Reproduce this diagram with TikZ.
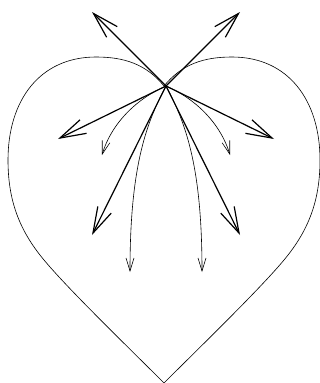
\documentclass[tikz,border=0pt]{standalone}
\usetikzlibrary{arrows.meta}
\tikzset{
  heartline/.style={line width=0.6pt},
  thickarrow/.style={line width=1.2pt,-{Straight Barb[length=26pt,width=15pt,line width=1.2pt]}},
  thinarrow/.style={line width=0.6pt,-{Straight Barb[length=13pt,width=8pt,line width=0.6pt]}}
}
\begin{document}
\begin{tikzpicture}[x=1pt,y=-1pt]
\useasboundingbox (0,0) rectangle (320,383);
% heart
\draw[heartline] (164,383)
  .. controls (129,348) and (69,290) .. (44,260)
  .. controls (19,230) and (8,200) .. (8,160)
  .. controls (8,100) and (40,57) .. (96,57)
  .. controls (124,57) and (146,64) .. (164,86)
  .. controls (182,64) and (204,57) .. (232,57)
  .. controls (288,57) and (320,100) .. (320,160)
  .. controls (320,200) and (309,230) .. (284,260)
  .. controls (259,290) and (199,348) .. (164,383);
\coordinate (c) at (166,86);
\coordinate (ul) at (92,12);
\coordinate (ur) at (240,12);
\coordinate (l) at (58,139);
\coordinate (r) at (274,139);
\coordinate (ll) at (92,235);
\coordinate (lr) at (240,235);
\coordinate (tl) at (102,155);
\coordinate (tr) at (230,155);
\coordinate (bl) at (130,272);
\coordinate (br) at (202,272);
\draw[thickarrow] (c) -- (ul);
\draw[thickarrow] (c) -- (ur);
\draw[thickarrow] (c) -- (l);
\draw[thickarrow] (c) -- (r);
\draw[thickarrow] (c) -- (ll);
\draw[thickarrow] (c) -- (lr);
\draw[thinarrow] (c) .. controls (138,98) and (112,122) .. (tl);
\draw[thinarrow] (c) .. controls (194,98) and (220,122) .. (tr);
\draw[thinarrow] (c) .. controls (145,125) and (130,170) .. (bl);
\draw[thinarrow] (c) .. controls (187,125) and (202,170) .. (br);
\end{tikzpicture}
\end{document}
